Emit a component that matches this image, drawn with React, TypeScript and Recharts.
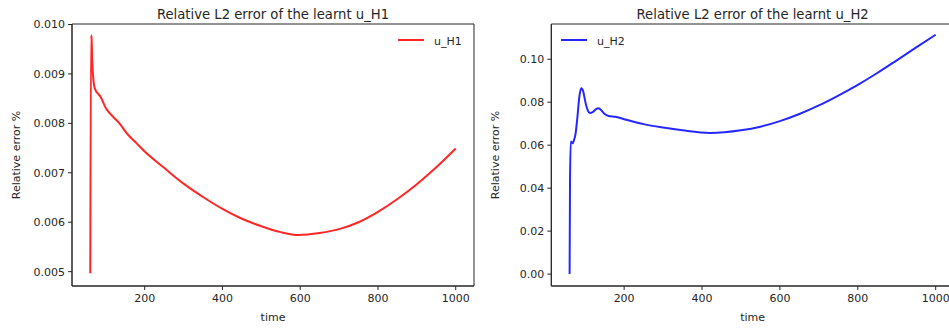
import React from "react";
import { LineChart, Line, XAxis, YAxis, Legend, ReferenceArea } from "recharts";

// u_H1 series
const timeH1 = [60, 62, 63, 64, 65, 67, 70, 75, 80, 87, 93, 100, 113, 134, 156, 180, 200, 250, 300, 350, 400, 450, 500, 550, 595, 650, 700, 750, 800, 850, 900, 950, 1000];
const errH1 = [0.00497, 0.00978, 0.00975, 0.0096, 0.0093, 0.00898, 0.00876, 0.00865, 0.0086, 0.00853, 0.00843, 0.00831, 0.00818, 0.00801, 0.00778, 0.00759, 0.00743, 0.0071, 0.00678, 0.00651, 0.00627, 0.00607, 0.00592, 0.0058, 0.00574, 0.00578, 0.00586, 0.006, 0.00621, 0.00647, 0.00677, 0.00711, 0.00749];

// u_H2 series
const timeH2 = [60, 61, 63, 66, 68, 71, 75, 80, 85, 90, 95, 100, 106, 112, 120, 128, 134, 140, 150, 160, 177, 200, 250, 300, 350, 420, 500, 550, 600, 650, 700, 750, 800, 850, 900, 950, 1000];
const errH2 = [0.0, 0.0423, 0.0617, 0.0612, 0.0609, 0.0622, 0.065, 0.073, 0.0825, 0.0865, 0.085, 0.0805, 0.0765, 0.075, 0.0755, 0.0768, 0.0772, 0.0765, 0.0745, 0.0736, 0.0732, 0.0721, 0.0698, 0.0682, 0.0669, 0.0657, 0.0669, 0.0686, 0.0712, 0.0745, 0.0785, 0.0831, 0.0881, 0.0936, 0.0995, 0.1055, 0.1114];

const xTicks = [200, 400, 600, 800, 1000];
const yTicksH1 = [0.005, 0.006, 0.007, 0.008, 0.009, 0.01];
const yTicksH2 = [0, 0.02, 0.04, 0.06, 0.08, 0.1];

const titleH1 = "Relative L2 error of the learnt u_H1";
const titleH2 = "Relative L2 error of the learnt u_H2";
const xLabel = "time";
const yLabel = "Relative error %";

const dataH1 = timeH1.map((t, i) => ({ t, v: errH1[i] }));
const dataH2 = timeH2.map((t, i) => ({ t, v: errH2[i] }));

const X_DOMAIN = [13, 1047];
const FONT = "DejaVu Sans";
const INK = "#262626";
const tickStyle = { fill: INK, fontSize: 11, fontFamily: FONT };

function LegendBox({ color, name }: { color: string; name: string }) {
  return (
    <svg width={80} height={20} style={{ display: "block" }}>
      <line x1={0} x2={26} y1={10} y2={10} stroke={color} strokeOpacity={0.85} strokeWidth={2} />
      <text x={36} y={15} fontSize={11} fontFamily={FONT} fill={INK}>{name}</text>
    </svg>
  );
}

function Panel({ data, color, name, title, yTicks, yDomain, digits, marginLeft, legendLeft }: any) {
  return (
    <LineChart width={480} height={330} data={data} margin={{ top: 24, right: 6, left: marginLeft, bottom: 14 }}>
      <XAxis
        dataKey="t"
        type="number"
        domain={X_DOMAIN}
        ticks={xTicks}
        allowDataOverflow
        height={30}
        tick={tickStyle}
        tickSize={4}
        tickMargin={4}
        tickLine={{ stroke: INK }}
        axisLine={{ stroke: INK }}
        label={{ value: xLabel, position: "bottom", offset: -3, fill: INK, fontSize: 11, fontFamily: FONT }}
      />
      <YAxis
        type="number"
        domain={yDomain}
        ticks={yTicks}
        allowDataOverflow
        width={60}
        tick={tickStyle}
        tickSize={4}
        tickMargin={3}
        tickLine={{ stroke: INK }}
        axisLine={{ stroke: INK }}
        tickFormatter={(v: number) => v.toFixed(digits)}
        label={{ value: yLabel, angle: -90, position: "insideLeft", offset: 4, style: { textAnchor: "middle" }, fill: INK, fontSize: 11, fontFamily: FONT }}
      />
      <ReferenceArea
        x1={X_DOMAIN[0]}
        x2={X_DOMAIN[1]}
        y1={yDomain[0]}
        y2={yDomain[1]}
        fill="none"
        fillOpacity={0}
        stroke={INK}
        strokeWidth={1}
        ifOverflow="visible"
        label={{ value: title, position: "top", offset: 5, fill: INK, fontSize: 13.2, fontFamily: FONT }}
      />
      <Legend
        layout="horizontal"
        verticalAlign="middle"
        wrapperStyle={{ position: "absolute", left: legendLeft, top: 30, width: 80, height: 20 }}
        content={() => <LegendBox color={color} name={name} />}
      />
      <Line
        dataKey="v"
        name={name}
        type="monotone"
        stroke={color}
        strokeOpacity={0.85}
        strokeWidth={2}
        dot={false}
        isAnimationActive={false}
      />
    </LineChart>
  );
}

export default function App() {
  return (
    <div style={{ position: "absolute", left: 0, top: 0, width: 949, height: 330, overflow: "hidden", background: "#fff" }}>
      <div style={{ position: "absolute", left: 0, top: 0 }}>
        <Panel data={dataH1} color="#ff0000" name="u_H1" title={titleH1} yTicks={yTicksH1} yDomain={[0.00471, 0.01001]} digits={3} marginLeft={12} legendLeft={398} />
      </div>
      <div style={{ position: "absolute", left: 480, top: 0 }}>
        <Panel data={dataH2} color="#0000ff" name="u_H2" title={titleH2} yTicks={yTicksH2} yDomain={[-0.00554, 0.1164]} digits={2} marginLeft={11.3} legendLeft={81} />
      </div>
    </div>
  );
}
